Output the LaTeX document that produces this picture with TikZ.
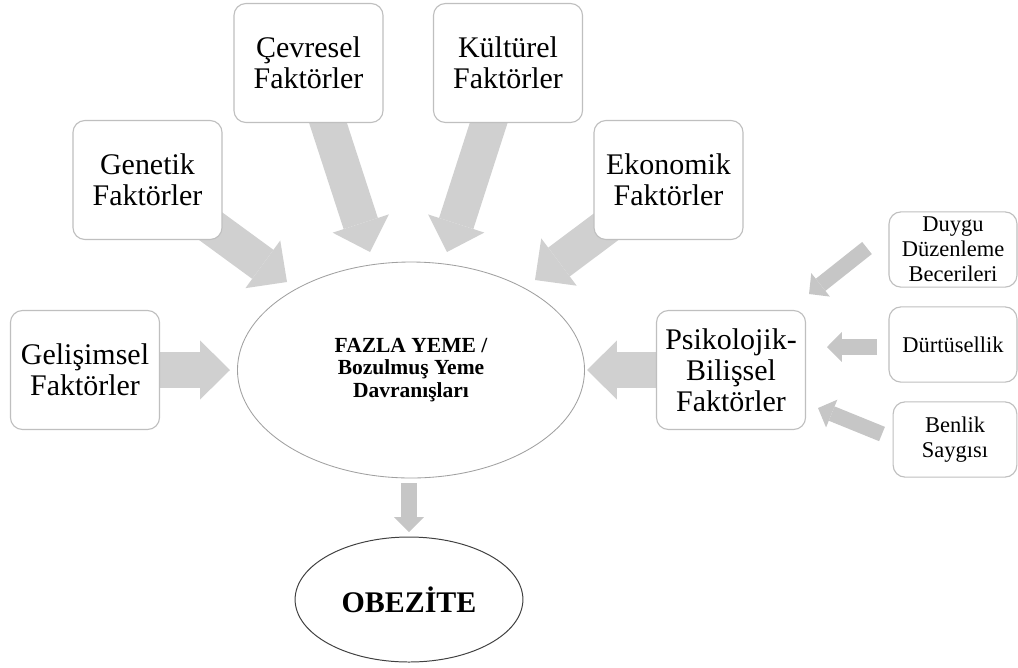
\documentclass[tikz,border=0pt]{standalone}
\usepackage{fontspec}
\setmainfont{Liberation Serif}
\usetikzlibrary{arrows.meta,shapes.geometric}
\pgfdeclarelayer{bg}
\pgfsetlayers{bg,main}
\definecolor{boxline}{HTML}{BFBFBF}
\definecolor{ellline}{HTML}{A0A0A0}
\definecolor{obeline}{HTML}{404040}
\definecolor{arrowfill}{HTML}{D0D0D0}
\definecolor{arrowfillb}{HTML}{C6C6C6}
\begin{document}
\begin{tikzpicture}[x=0.025cm,y=-0.025cm,
  bigbox/.style={draw=boxline, line width=0.8pt, fill=white, rounded corners=8.5pt,
    minimum width=106pt, minimum height=84.6pt, align=center, inner sep=0pt,
    font=\fontsize{21.3}{22}\selectfont},
  smallbox/.style={draw=boxline, line width=0.8pt, fill=white, rounded corners=8.5pt,
    minimum width=91pt, minimum height=53.5pt, align=center, inner sep=0pt,
    font=\fontsize{16}{17.8}\selectfont},
  bigarrow/.style={draw=arrowfill, line width=25.6pt,
    -{Triangle[length=21.3pt, width=42pt, line width=0pt]}},
  smallarrow/.style={draw=arrowfillb, line width=11pt,
    -{Triangle[length=10.5pt, width=21.3pt, line width=0pt]}}]
\useasboundingbox (0,0) rectangle (1018,667);

% boxes
\node[bigbox] (gen) at (147.5,180) {Genetik\\Faktörler};
\node[bigbox] (cev) at (308.5,63) {Çevresel\\Faktörler};
\node[bigbox] (kul) at (508,63) {Kültürel\\Faktörler};
\node[bigbox] (eko) at (668.5,180) {Ekonomik\\Faktörler};
\node[bigbox] (gel) at (85,370) {Gelişimsel\\Faktörler};
\node[bigbox] (psi) at (731,370) {Psikolojik-\\Bilişsel\\Faktörler};

\node[smallbox] (duy) at (953,249.5) {Duygu\\Düzenleme\\Becerileri};
\node[smallbox] (dur) at (953,344.5) {Dürtüsellik};
\node[smallbox, minimum width=88pt] (ben) at (955,439.5) {Benlik\\Saygısı};

% ellipses
\node[ellipse, draw=ellline, line width=0.6pt, fill=white, minimum width=246.8pt,
  minimum height=153.6pt, inner sep=0pt, align=center,
  font=\bfseries\fontsize{15.3}{15.8}\selectfont] (main) at (411,370)
  {FAZLA YEME /\\Bozulmuş Yeme\\Davranışları};
\node[ellipse, draw=obeline, line width=0.7pt, fill=white, minimum width=162pt,
  minimum height=88.9pt, inner sep=0pt,
  font=\bfseries\fontsize{21.3}{22}\selectfont] (obe) at (409,599.5) {OBEZİTE};

% tip coordinates
\coordinate (gen-t) at (287,282);
\coordinate (cev-t) at (370,252);
\coordinate (kul-t) at (447,252);
\coordinate (eko-t) at (535,280);
\coordinate (gel-t) at (230,370);
\coordinate (psi-t) at (587,370);
\coordinate (duy-s) at (867,248);
\coordinate (duy-t) at (809,294);
\coordinate (dur-s) at (877,347);
\coordinate (dur-t) at (827,347);
\coordinate (ben-s) at (882,434);
\coordinate (ben-t) at (818,408);
\coordinate (down-s) at (409,483);
\coordinate (down-t) at (409,532);

\begin{pgfonlayer}{bg}
\draw[bigarrow] (gen.center) -- (gen-t);
\draw[bigarrow] (cev.center) -- (cev-t);
\draw[bigarrow] (kul.center) -- (kul-t);
\draw[bigarrow] (eko.center) -- (eko-t);
\draw[bigarrow] (gel.center) -- (gel-t);
\draw[bigarrow] (psi.center) -- (psi-t);
\end{pgfonlayer}
\draw[smallarrow] (duy-s) -- (duy-t);
\draw[smallarrow] (dur-s) -- (dur-t);
\draw[smallarrow] (ben-s) -- (ben-t);
\draw[smallarrow] (down-s) -- (down-t);
\end{tikzpicture}
\end{document}
